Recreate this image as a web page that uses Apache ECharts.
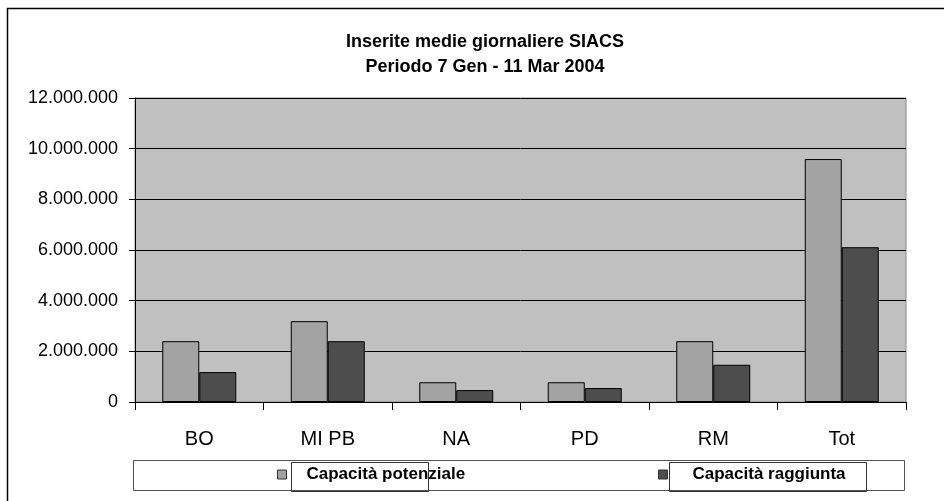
<!DOCTYPE html>
<html>
<head>
<meta charset="utf-8">
<script src="https://cdn.jsdelivr.net/npm/echarts@6/dist/echarts.min.js"></script>
<style>html,body{margin:0;padding:0;background:#fff;}#c{width:944px;height:501px;}</style>
</head>
<body>
<div id="c"></div>
<script>
var categories = ['BO', 'MI PB', 'NA', 'PD', 'RM', 'Tot'];
var potenziale = [2400000, 3190000, 780000, 780000, 2400000, 9590000];
var raggiunta = [1180000, 2400000, 470000, 550000, 1470000, 6110000];
var seriesNames = ['Capacità potenziale', 'Capacità raggiunta'];
var titleLines = ['Inserite medie giornaliere SIACS', 'Periodo 7 Gen - 11 Mar 2004'];

function fmt(v) {
  return String(v).replace(/\B(?=(\d{3})+(?!\d))/g, '.');
}
var FONT = '"Liberation Sans", Arial, sans-serif';
var chart = echarts.init(document.getElementById('c'), null, {renderer: 'canvas'});
chart.setOption({
  animation: false,
  backgroundColor: '#ffffff',
  title: {
    text: titleLines.join('\n'),
    left: 480, top: 25, textAlign: 'center',
    textStyle: {fontFamily: FONT, fontWeight: 'bold', fontSize: 18, lineHeight: 25, color: '#000'}
  },
  graphic: [
    {type: 'rect', shape: {x: 7.5, y: 8.5, width: 1000, height: 600}, style: {fill: null, stroke: '#000', lineWidth: 1.5}, z: 0},
    {type: 'rect', shape: {x: 133.5, y: 460.5, width: 771, height: 30}, style: {fill: '#fff', stroke: '#555', lineWidth: 1}, z: 0},
    {type: 'rect', shape: {x: 291.5, y: 462.5, width: 137, height: 29}, style: {fill: null, stroke: '#333', lineWidth: 1}, z: 100},
    {type: 'rect', shape: {x: 669.5, y: 462.5, width: 197, height: 29}, style: {fill: null, stroke: '#333', lineWidth: 1}, z: 100}
  ],
  legend: [
    {data: [seriesNames[0]], left: 277, top: 466, itemWidth: 9, itemHeight: 9, itemGap: 0, padding: 0,
     icon: 'rect', textStyle: {fontFamily: FONT, fontWeight: 'bold', fontSize: 17, color: '#000', padding: [0,0,0,15]},
     itemStyle: {borderColor: '#333', borderWidth: 1}},
    {data: [seriesNames[1]], left: 658, top: 466, itemWidth: 9, itemHeight: 9, itemGap: 0, padding: 0,
     icon: 'rect', textStyle: {fontFamily: FONT, fontWeight: 'bold', fontSize: 17, color: '#000', padding: [0,0,0,20]},
     itemStyle: {borderColor: '#333', borderWidth: 1}}
  ],
  grid: {left: 135, right: 38, top: 98, bottom: 99, show: true, backgroundColor: '#c0c0c0', borderWidth: 1, borderColor: '#8a8a8a'},
  xAxis: {
    type: 'category', data: categories,
    axisLine: {lineStyle: {color: '#000', width: 1}},
    axisTick: {show: true, length: 8, lineStyle: {color: '#000'}},
    axisLabel: {fontFamily: FONT, fontSize: 20, color: '#000', margin: 27}
  },
  yAxis: {
    type: 'value', min: 0, max: 12000000, interval: 2000000,
    axisLine: {show: true, lineStyle: {color: '#000', width: 1}},
    axisTick: {show: true, length: 6, lineStyle: {color: '#000'}},
    splitLine: {lineStyle: {color: '#000', width: 1}},
    axisLabel: {fontFamily: FONT, fontSize: 18, color: '#000', margin: 17, formatter: fmt}
  },
  series: [
    {name: seriesNames[0], type: 'bar', data: potenziale, barWidth: 37, barGap: '0%',
     itemStyle: {color: '#a3a3a3', borderColor: '#000', borderWidth: 1}},
    {name: seriesNames[1], type: 'bar', data: raggiunta, barWidth: 37, barGap: '0%',
     itemStyle: {color: '#4d4d4d', borderColor: '#000', borderWidth: 1}}
  ]
});
</script>
</body>
</html>
